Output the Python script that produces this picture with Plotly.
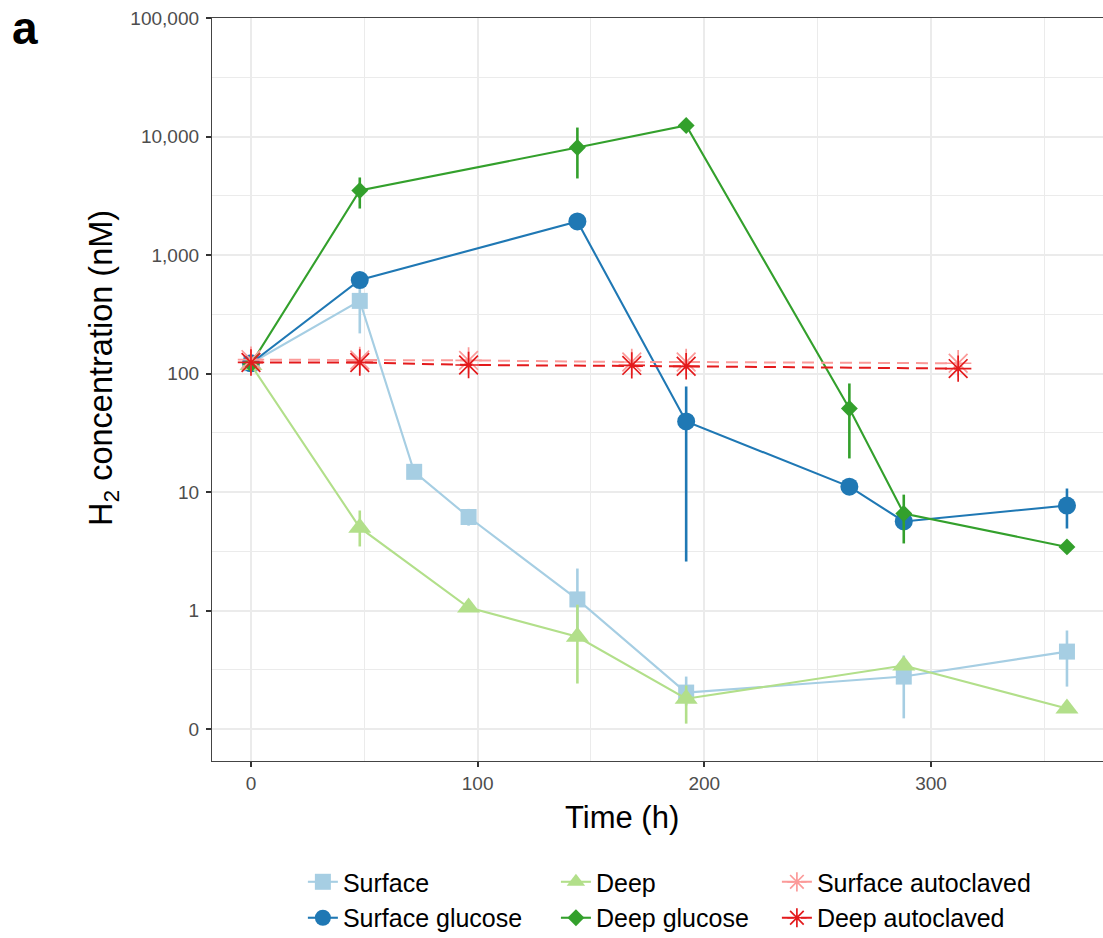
import plotly.graph_objects as go

# ---------------- data ----------------
surface_t = [0, 48, 72, 96, 144, 192, 288, 360]
surface_v = [122, 410, 14.8, 6.15, 1.24, 0.203, 0.277, 0.45]
surface_lo = [122, 218, 14.8, 5.2, 0.68, 0.158, 0.123, 0.228]
surface_hi = [122, 586, 14.8, 7.2, 2.26, 0.277, 0.417, 0.678]

surface_glc_t = [0, 48, 144, 192, 264, 288, 360]
surface_glc_v = [122, 615, 1918, 39.4, 11.1, 5.64, 7.69]
surface_glc_lo = [122, 615, 1918, 2.59, 11.1, 5.64, 4.92]
surface_glc_hi = [122, 615, 1918, 77.7, 11.1, 5.64, 10.7]

deep_t = [0, 48, 96, 144, 192, 288, 360]
deep_v = [118, 5.0, 1.06, 0.60, 0.18, 0.343, 0.149]
deep_lo = [118, 3.47, 1.06, 0.242, 0.111, 0.343, 0.149]
deep_hi = [118, 6.98, 1.06, 1.12, 0.233, 0.343, 0.149]

deep_glc_t = [0, 48, 144, 192, 264, 288, 360]
deep_glc_v = [120, 3500, 8075, 12390, 50.7, 6.59, 3.44]
deep_glc_lo = [120, 2467, 4425, 12390, 19.2, 3.68, 3.44]
deep_glc_hi = [120, 4510, 11900, 12390, 82.4, 9.5, 3.44]

auto_t = [0, 48, 96, 168, 192, 312]
surface_auto_v = [131, 130, 129, 125, 125, 122]
deep_auto_v = [124, 124, 118, 117, 115, 110]

y_tickvals = [0.1, 1, 10, 100, 1000, 10000, 100000]
y_ticktext = ["0", "1", "10", "100", "1,000", "10,000", "100,000"]
y_minorvals = [0.316, 3.16, 31.6, 316, 3162, 31623]
x_tickvals = [0, 100, 200, 300]
x_minorvals = [50, 150, 250, 350]

FONT = "Liberation Sans, Arial, Helvetica, sans-serif"

fig = go.Figure()


def add_series(name, t, v, lo, hi, color, symbol, size, legend):
    plus = [h - a for h, a in zip(hi, v)]
    minus = [a - l for a, l in zip(v, lo)]
    fig.add_trace(go.Scatter(
        x=t, y=v, name=name, mode="lines+markers",
        line=dict(color=color, width=2.1),
        marker=dict(color=color, symbol=symbol, size=size),
        error_y=dict(type="data", array=plus, arrayminus=minus,
                     color=color, thickness=2.6, width=0, visible=True),
        legend=legend,
    ))


add_series("Surface", surface_t, surface_v, surface_lo, surface_hi,
           "#a6cee3", "square", 16, "legend")
add_series("Surface glucose", surface_glc_t, surface_glc_v, surface_glc_lo,
           surface_glc_hi, "#1f78b4", "circle", 18, "legend2")
add_series("Deep", deep_t, deep_v, deep_lo, deep_hi,
           "#b2df8a", "triangle-up", 20, "legend3")
add_series("Deep glucose", deep_glc_t, deep_glc_v, deep_glc_lo, deep_glc_hi,
           "#33a02c", "diamond", 13, "legend4")

fig.add_trace(go.Scatter(
    x=auto_t, y=surface_auto_v, name="Surface autoclaved", mode="lines+markers",
    line=dict(color="#fb9a99", width=2, dash="12px,7px"),
    marker=dict(color="#fb9a99", symbol="asterisk-open", size=22,
                line=dict(color="#fb9a99", width=1.7)),
    legend="legend5",
))
fig.add_trace(go.Scatter(
    x=auto_t, y=deep_auto_v, name="Deep autoclaved", mode="lines+markers",
    line=dict(color="#e31a1c", width=2, dash="12px,7px"),
    marker=dict(color="#e31a1c", symbol="asterisk-open", size=22,
                line=dict(color="#e31a1c", width=1.7)),
    legend="legend6",
))

legend_common = dict(xanchor="left", yanchor="middle", bgcolor="rgba(0,0,0,0)",
                     font=dict(family=FONT, size=25, color="#000000"),
                     orientation="v")
col_x = [0.1020, 0.3860, 0.6340]
row_y = [-0.1629, -0.2113]

fig.update_layout(
    width=1103, height=938,
    paper_bgcolor="white", plot_bgcolor="white",
    margin=dict(l=212, r=0, t=18, b=177, autoexpand=False),
    font=dict(family=FONT),
    showlegend=True,
    legend=dict(x=col_x[0], y=row_y[0], **legend_common),
    legend2=dict(x=col_x[0], y=row_y[1], **legend_common),
    legend3=dict(x=col_x[1], y=row_y[0], **legend_common),
    legend4=dict(x=col_x[1], y=row_y[1], **legend_common),
    legend5=dict(x=col_x[2], y=row_y[0], **legend_common),
    legend6=dict(x=col_x[2], y=row_y[1], **legend_common),
    xaxis=dict(
        range=[-17.2, 375.9], tickmode="array", tickvals=x_tickvals,
        ticktext=[str(v) for v in x_tickvals],
        showgrid=True, gridcolor="#ebebeb", gridwidth=1.6,
        minor=dict(tickmode="array", tickvals=x_minorvals, showgrid=True,
                   gridcolor="#ebebeb", gridwidth=1.2),
        showline=True, linecolor="#444444", linewidth=1.3, mirror=True,
        ticks="outside", ticklen=5, tickwidth=1.5, tickcolor="#333333",
        tickfont=dict(family=FONT, size=19, color="#4d4d4d"),
        zeroline=False,
    ),
    yaxis=dict(
        type="log", range=[-1.27, 5.0], tickmode="array",
        tickvals=y_tickvals, ticktext=y_ticktext,
        showgrid=True, gridcolor="#ebebeb", gridwidth=1.6,
        minor=dict(tickmode="array", tickvals=y_minorvals, showgrid=True,
                   gridcolor="#ebebeb", gridwidth=1.2),
        showline=True, linecolor="#444444", linewidth=1.3, mirror=False,
        ticks="outside", ticklen=5, tickwidth=1.5, tickcolor="#333333",
        ticklabelstandoff=3,
        tickfont=dict(family=FONT, size=19, color="#4d4d4d"),
        zeroline=False,
    ),
    annotations=[
        dict(text="H<sub>2</sub> concentration (nM)", xref="paper", yref="paper",
             x=-0.1212, y=0.529, textangle=-90, showarrow=False,
             xanchor="center", yanchor="middle",
             font=dict(family=FONT, size=32.5, color="#000000")),
        dict(text="Time (h)", xref="paper", yref="paper",
             x=0.460, y=-0.0767, showarrow=False,
             xanchor="center", yanchor="middle",
             font=dict(family=FONT, size=31, color="#000000")),
        dict(text="<b>a</b>", xref="paper", yref="paper",
             x=-0.2099, y=1.0242, showarrow=False,
             xanchor="center", yanchor="top",
             font=dict(family=FONT, size=46, color="#000000")),
    ],
)

fig.write_html(
    "out.html",
    config={"displayModeBar": False},
    post_script="document.body.style.margin='0';document.body.style.overflow='hidden';",
)
